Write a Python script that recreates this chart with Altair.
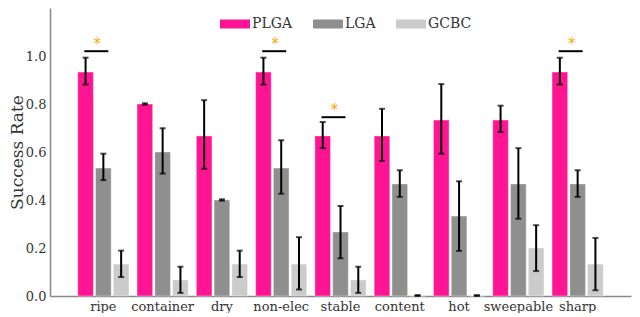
import altair as alt
import pandas as pd

cats = ["ripe", "container", "dry", "non-elec", "stable", "content", "hot", "sweepable", "sharp"]
series = ["PLGA", "LGA", "GCBC"]
colors = ["#ff1493", "#8f8f8f", "#cbcbcb"]

plga = [0.933, 0.8, 0.667, 0.933, 0.667, 0.667, 0.733, 0.733, 0.933]
plga_lo = [0.881, 0.797, 0.53, 0.881, 0.616, 0.563, 0.593, 0.683, 0.881]
plga_hi = [0.993, 0.803, 0.816, 0.993, 0.725, 0.78, 0.883, 0.793, 0.993]
lga = [0.533, 0.6, 0.4, 0.533, 0.267, 0.467, 0.333, 0.467, 0.467]
lga_lo = [0.483, 0.51, 0.397, 0.426, 0.157, 0.413, 0.188, 0.322, 0.413]
lga_hi = [0.593, 0.699, 0.403, 0.649, 0.375, 0.524, 0.478, 0.616, 0.524]
gcbc = [0.133, 0.067, 0.133, 0.133, 0.067, 0.0, 0.0, 0.2, 0.133]
gcbc_lo = [0.079, 0.013, 0.079, 0.027, 0.013, 0.0, 0.0, 0.104, 0.024]
gcbc_hi = [0.189, 0.122, 0.189, 0.245, 0.122, 0.004, 0.004, 0.295, 0.242]

sig_cats = ["ripe", "non-elec", "stable", "sharp"]
sig_line = [1.02, 1.02, 0.745, 1.02]
sig_star = [1.06, 1.06, 0.785, 1.06]

rows = []
for s, v, lo, hi in [("PLGA", plga, plga_lo, plga_hi),
                     ("LGA", lga, lga_lo, lga_hi),
                     ("GCBC", gcbc, gcbc_lo, gcbc_hi)]:
    for c, a, l, h in zip(cats, v, lo, hi):
        rows.append({"cat": c, "series": s, "value": a, "lo": l, "hi": h})
df = pd.DataFrame(rows)
sig = pd.DataFrame({"cat": sig_cats, "line": sig_line, "star": sig_star})

FONT = "DejaVu Serif"

xenc = alt.X("cat:N", sort=cats, title=None,
             scale=alt.Scale(paddingInner=0.1, paddingOuter=0.45),
             axis=alt.Axis(labelAngle=0, ticks=False, labelPadding=4,
                           labelFont=FONT, labelFontSize=13, labelColor="#333333",
                           domainColor="#888888", domainWidth=1.5))
xoff = alt.XOffset("series:N", sort=series,
                   scale=alt.Scale(paddingInner=0.12, paddingOuter=0.06))
yscale = alt.Scale(domain=[0, 1.2], nice=False)

bars = alt.Chart(df).mark_bar(stroke="white", strokeWidth=0.8, strokeOpacity=0.5).encode(
    x=xenc,
    xOffset=xoff,
    y=alt.Y("value:Q", scale=yscale, title="Success Rate",
            axis=alt.Axis(values=[0, 0.2, 0.4, 0.6, 0.8, 1.0], format=".1f", ticks=False,
                          grid=False, labelPadding=4, titleX=-28, titleBaseline="alphabetic",
                          labelFont=FONT, labelFontSize=13, labelColor="#333333",
                          titleFont=FONT, titleFontSize=17, titleFontWeight="normal",
                          titleColor="#333333", domainColor="#888888", domainWidth=1.5)),
    color=alt.Color("series:N", sort=series,
                    scale=alt.Scale(domain=series, range=colors),
                    legend=alt.Legend(title=None, orient="none", direction="horizontal",
                                      legendX=175, legendY=6,
                                      symbolType="M-1.5,-0.45L1.5,-0.45L1.5,0.45L-1.5,0.45Z",
                                      symbolSize=400, symbolStrokeWidth=0,
                                      labelOffset=7, columnPadding=20,
                                      labelFont=FONT, labelFontSize=14, labelColor="#333333")),
)

err = alt.Chart(df).mark_rule(color="black", strokeWidth=2).encode(
    x=alt.X("cat:N", sort=cats), xOffset=xoff,
    y=alt.Y("lo:Q", scale=yscale), y2="hi:Q",
)
cap_lo = alt.Chart(df).mark_tick(color="black", thickness=2, size=6, orient="horizontal").encode(
    x=alt.X("cat:N", sort=cats), xOffset=xoff, y=alt.Y("lo:Q", scale=yscale),
)
cap_hi = alt.Chart(df).mark_tick(color="black", thickness=2, size=6, orient="horizontal").encode(
    x=alt.X("cat:N", sort=cats), xOffset=xoff, y=alt.Y("hi:Q", scale=yscale),
)

sig_rule = alt.Chart(sig).mark_rule(color="black", strokeWidth=2, xOffset=-19, x2Offset=5).encode(
    x=alt.X("cat:N", sort=cats), x2="cat:N", y=alt.Y("line:Q", scale=yscale),
)
sig_text = alt.Chart(sig).mark_text(text="*", color="#ffa500", fontSize=15,
                                    font="DejaVu Sans", dx=-6, dy=2).encode(
    x=alt.X("cat:N", sort=cats), y=alt.Y("star:Q", scale=yscale),
)

chart = alt.layer(bars, err, cap_lo, cap_hi, sig_rule, sig_text).properties(
    width=624, height=305, padding={"left": 0, "top": 0, "right": 1, "bottom": 0},
    autosize=alt.AutoSizeParams(type="fit", contains="padding"),
).configure_view(stroke=None).configure_axis(labelFontWeight="normal")

chart.save("out.html", embed_options={"renderer": "svg", "actions": False})
